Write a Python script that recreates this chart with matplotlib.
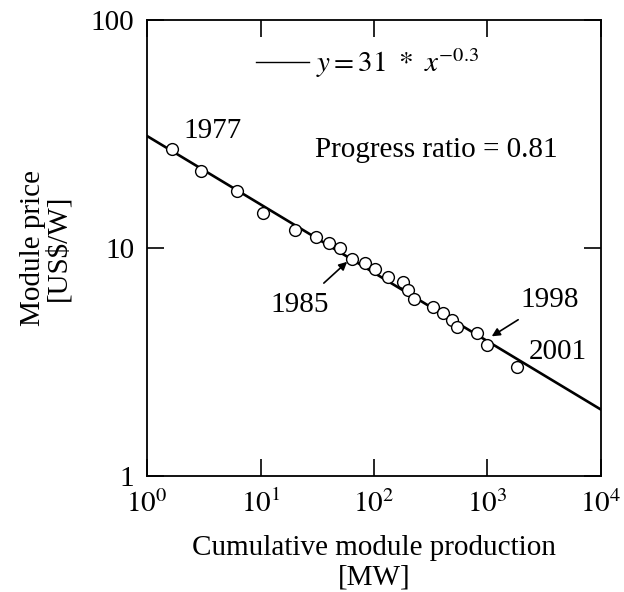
import numpy as np
import matplotlib.pyplot as plt
from matplotlib.lines import Line2D

plt.rcParams['font.family'] = ['Liberation Serif', 'DejaVu Serif']
plt.rcParams['mathtext.fontset'] = 'stix'

# cumulative production [MW] and module price [US$/W]
production = [1.66, 2.99, 6.2, 10.5, 20.1, 30.8, 40.1, 50.2, 64.0, 83.3, 102,
              133, 180, 199, 225, 331, 405, 487, 539, 808, 990, 1819]
price = [27.2, 21.8, 17.8, 14.2, 12.0, 11.2, 10.5, 10.0, 8.95, 8.6, 8.09,
         7.46, 7.09, 6.55, 5.97, 5.51, 5.19, 4.83, 4.50, 4.24, 3.75, 3.01]

fit_a = 31
fit_b = -0.3
x_fit = np.logspace(0, 4, 200)
y_fit = fit_a * x_fit ** fit_b

x_ticks = [1, 10, 100, 1000, 10000]
x_labels = [r'$10^{0}$', r'$10^{1}$', r'$10^{2}$', r'$10^{3}$', r'$10^{4}$']
y_ticks = [1, 10, 100]
y_labels = ['1', '10', '100']

fs = 21

fig = plt.figure(figsize=(6.24, 5.92), dpi=100)
ax = fig.add_axes([0.2356, 0.1959, 0.7275, 0.7703])

ax.plot(x_fit, y_fit, color='black', lw=1.9)
ax.plot(production, price, 'o', ms=8.5, mfc='white', mec='black', mew=1.0)

ax.set_xscale('log')
ax.set_yscale('log')
ax.set_xlim(1, 1e4)
ax.set_ylim(1, 100)
ax.minorticks_off()
ax.set_xticks(x_ticks)
ax.set_xticklabels(x_labels, fontsize=21)
ax.set_yticks(y_ticks)
ax.set_yticklabels(y_labels, fontsize=fs)
ax.tick_params(which='both', direction='in', top=True, right=True,
               length=12, width=1.2)
ax.tick_params(axis='x', pad=10)
ax.tick_params(axis='y', pad=9)
for s in ax.spines.values():
    s.set_linewidth(1.3)

ax.set_xlabel('Cumulative module production\n[MW]', fontsize=fs,
              linespacing=1.2, labelpad=12)
ax.set_ylabel('Module price\n[US$/W]', fontsize=fs, linespacing=0.95,
              labelpad=14)

handle = Line2D([], [], color='black', lw=1.0)
ax.legend([handle], [r'$y = 31\ *\ x^{-0.3}$'], loc='center left',
          bbox_to_anchor=(0.183, 0.905), frameon=False, fontsize=fs,
          handlelength=1.8, handletextpad=0.25)

ax.text(0.37, 0.715, 'Progress ratio = 0.81', transform=ax.transAxes,
        fontsize=fs, va='center')
ax.text(3.8, 32.5, '1977', fontsize=fs, ha='center', va='center')
ax.text(2300, 3.5, '2001', fontsize=fs, ha='left', va='center')
ax.annotate('1985', xy=(58, 8.7), xytext=(22, 5.6), fontsize=fs,
            ha='center', va='center',
            arrowprops=dict(arrowstyle='-|>', color='black', lw=1.2,
                            mutation_scale=12, shrinkA=7, shrinkB=0))
ax.annotate('1998', xy=(1090, 4.1), xytext=(3500, 5.9), fontsize=fs,
            ha='center', va='center',
            arrowprops=dict(arrowstyle='-|>', color='black', lw=1.2,
                            mutation_scale=12, shrinkA=5, shrinkB=0))

fig.savefig('out.png', dpi=100)
